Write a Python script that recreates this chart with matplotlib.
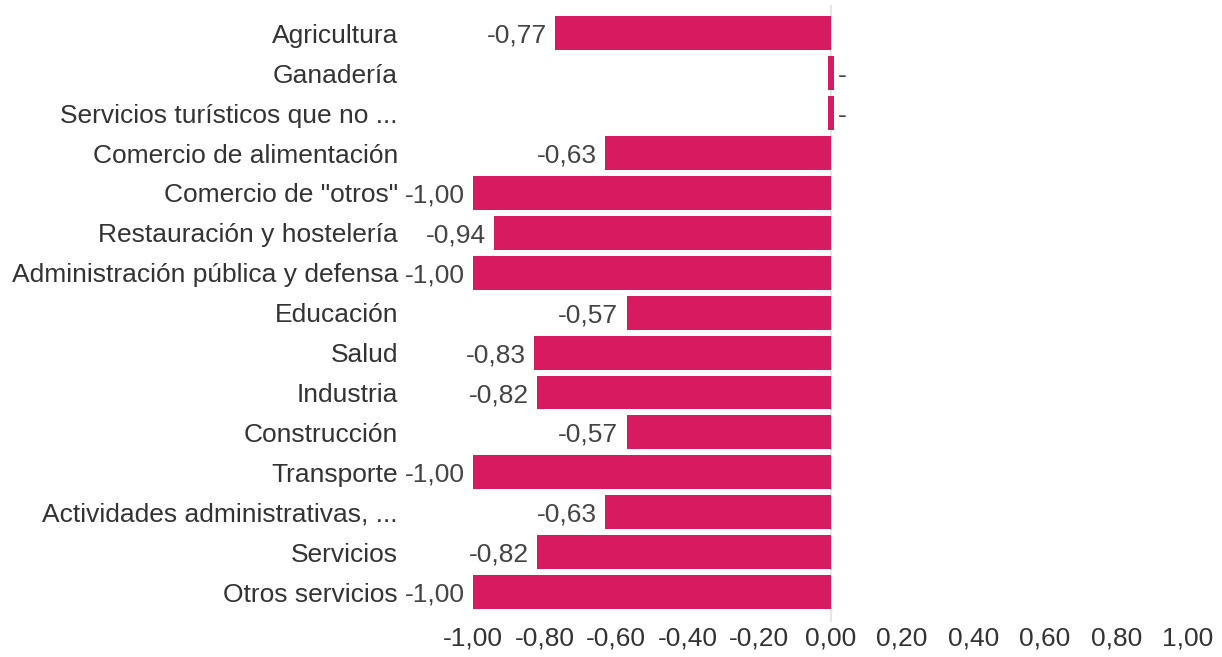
import matplotlib.pyplot as plt
import numpy as np

plt.rcParams['font.family'] = ['Liberation Sans', 'DejaVu Sans']

# Sectores y variación
sectores = [
    "Agricultura", "Ganadería", "Servicios turísticos que no ...",
    "Comercio de alimentación", 'Comercio de "otros"',
    "Restauración y hostelería", "Administración pública y defensa",
    "Educación", "Salud", "Industria", "Construcción", "Transporte",
    "Actividades administrativas, ...", "Servicios", "Otros servicios",
]
valores = [-0.77, 0.0, 0.0, -0.63, -1.00, -0.94, -1.00, -0.57,
           -0.83, -0.82, -0.57, -1.00, -0.63, -0.82, -1.00]
ticks_x = [-1.0, -0.8, -0.6, -0.4, -0.2, 0.0, 0.2, 0.4, 0.6, 0.8, 1.0]

color = "#d81b60"
fs = 19

fig = plt.figure(figsize=(12.22, 6.57), dpi=100)
ax = fig.add_axes([473 / 1222, 1 - 622 / 657, 715 / 1222, 617 / 657])

y = np.arange(len(sectores))
for yi, v in zip(y, valores):
    if v == 0:
        # sin dato: marca minima sobre el cero
        ax.barh(yi, 0.016, left=-0.006, height=0.85, color=color)
        ax.annotate("-", (0.01, yi), xytext=(3, 0), textcoords="offset points",
                    ha="left", va="center_baseline", fontsize=fs, color="#444444")
    else:
        ax.barh(yi, v, height=0.85, color=color)
        ax.annotate(f"{v:.2f}".replace(".", ","), (v, yi), xytext=(-6, 0),
                    textcoords="offset points", ha="right", va="center_baseline",
                    fontsize=fs, color="#444444")

ax.axvline(0, color="#e6e6e6", lw=1.5, zorder=0)

ax.set_xlim(-1, 1)
ax.set_ylim(14.75, -0.71)
ax.set_xticks(ticks_x)
ax.set_xticklabels([f"{t:.2f}".replace(".", ",") for t in ticks_x])
ax.set_yticks(y)
ax.set_yticklabels(sectores)
ax.tick_params(axis="y", length=0, pad=54, labelsize=fs, labelcolor="#333333")
ax.tick_params(axis="x", length=0, pad=3, labelsize=fs, labelcolor="#333333")
for s in ax.spines.values():
    s.set_visible(False)

fig.savefig("out.png", dpi=100)
